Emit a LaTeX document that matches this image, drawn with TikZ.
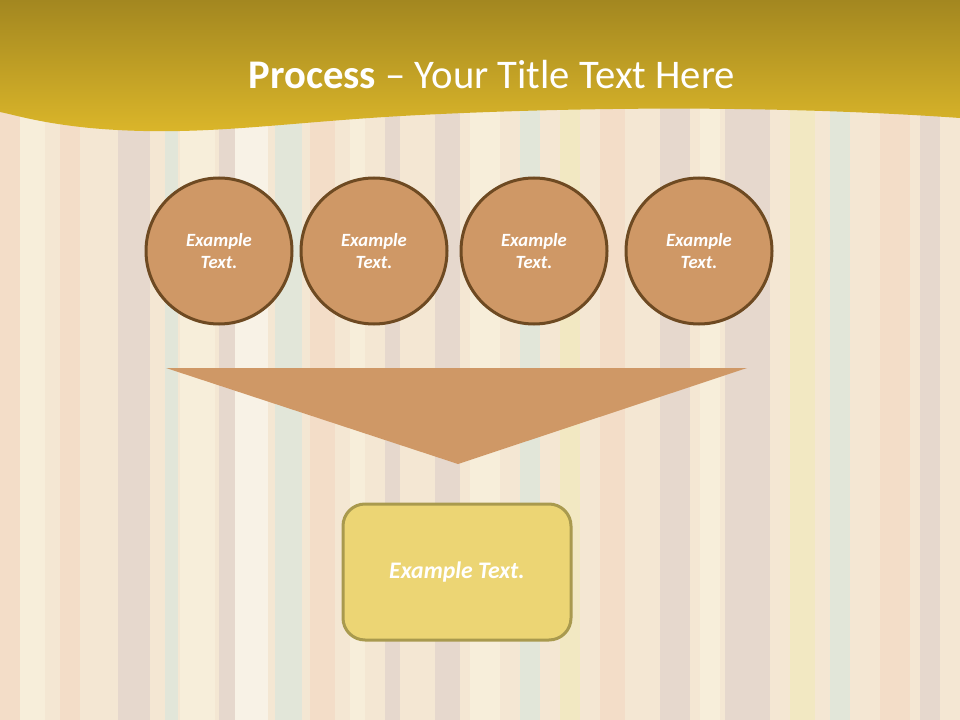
\documentclass[tikz,border=0pt]{standalone}
\usepackage{fontspec}
\setmainfont{Carlito}
\definecolor{bgbase}{HTML}{F4E7D3}
\definecolor{taupe}{HTML}{E6D8CD}
\definecolor{mint}{HTML}{E2E6D9}
\definecolor{cream}{HTML}{F7EEDA}
\definecolor{peach}{HTML}{F3DDC8}
\definecolor{pale}{HTML}{F2E8C2}
\definecolor{chalk}{HTML}{F8F2E6}
\definecolor{bandtop}{HTML}{A38720}
\definecolor{bandlow}{HTML}{DDB82A}
\definecolor{bubblefill}{HTML}{CF9866}
\definecolor{bubbleline}{HTML}{6E4A22}
\definecolor{boxfill}{HTML}{ECD574}
\definecolor{boxline}{HTML}{A99A4E}
\tikzset{
	bubble/.style={circle, draw=bubbleline, line width=2.25pt, fill=bubblefill,
		minimum size=109.5pt, inner sep=0pt, text=white, align=center,
		font=\bfseries\itshape\fontsize{14}{17}\selectfont},
	resultbox/.style={rectangle, rounded corners=16.5pt, draw=boxline, line width=2.25pt,
		fill=boxfill, minimum width=171pt, minimum height=102pt, text=white,
		font=\bfseries\itshape\fontsize{17.8}{20}\selectfont}
}
\begin{document}
\begin{tikzpicture}[x=0.75pt,y=-0.75pt]
	\useasboundingbox (0,0) rectangle (960,720);
	\fill[bgbase] (0,0) rectangle (960,720);
	\foreach \a/\b/\c in {0/20/peach, 20/45/cream, 60/80/peach, 118/150/taupe, 165/178/mint,
		180/215/cream, 219/235/taupe, 235/268/chalk, 275/302/mint, 310/335/peach,
		350/365/cream, 385/400/taupe, 435/460/taupe, 470/500/cream, 520/540/mint,
		560/580/pale, 600/625/peach, 660/690/taupe, 700/720/cream, 725/770/taupe,
		790/815/pale, 830/850/mint, 880/910/peach, 920/940/taupe}
		\fill[\c] (\a,0) rectangle (\b,720);

	\shade[top color=bandtop, bottom color=bandlow] (0,0) -- (960,0) -- (960,118)
		.. controls (760,104) and (560,108) .. (420,115)
		.. controls (280,122) and (200,138) .. (90,128)
		.. controls (40,123) and (15,115) .. (0,112) -- cycle;
	\node[text=white, font=\fontsize{30.5}{36}\selectfont] (title) at (492,75) {\textbf{Process} – Your Title Text Here};

	\node[bubble] (c1) at (219,251) {Example\\Text.};
	\node[bubble] (c2) at (374,251) {Example\\Text.};
	\node[bubble] (c3) at (534,251) {Example\\Text.};
	\node[bubble] (c4) at (699,251) {Example\\Text.};

	\fill[bubblefill] (166,368) -- (747,368) -- (458,464) -- cycle;

	\node[resultbox] (out) at (457,572) {Example Text.};
\end{tikzpicture}
\end{document}
